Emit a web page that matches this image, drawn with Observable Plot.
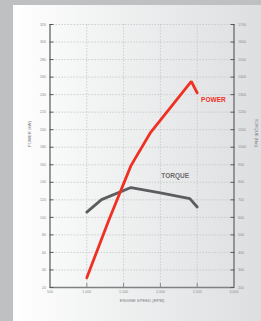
<!DOCTYPE html>
<html><head><meta charset="utf-8">
<script src="https://cdn.jsdelivr.net/npm/d3@7"></script>
<script src="https://cdn.jsdelivr.net/npm/@observablehq/plot@0.6"></script>
<style>
html,body{margin:0;padding:0;background:#bfc0c2;}
#wrap{position:relative;width:261px;height:321px;overflow:hidden;background:#bfc0c2;}
#card{position:absolute;left:13px;top:5px;width:260px;height:330px;background:linear-gradient(to right,#ffffff 0%,#f1f2f2 35%,#dcdddf 100%);}
#chart{position:absolute;left:0;top:0;}
</style></head>
<body><div id="wrap"><div id="card"></div><div id="chart"></div></div>
<script>
// Engine speed (rpm) and values
const powerRpm = [1000, 1300, 1600, 1860, 2420, 2500];
const powerKw  = [31, 97, 159, 196, 255, 242];
const torqueRpm = [1000, 1200, 1600, 2000, 2400, 2500];
const torqueNm  = [630, 701, 770, 739, 707, 659];
const xTicks = [500, 1000, 1500, 2000, 2500, 3000];
const powerTicks = d3.range(20, 321, 20);      // kW, left axis
const torqueTicks = d3.range(200, 1701, 100);  // Nm, right axis
const seriesLabels = [{name: "POWER", rpm: 2720, kw: 234, color: "#ef3124"},
                      {name: "TORQUE", rpm: 2200, kw: 147, color: "#6a6b6d"}];
const titles = {x: "ENGINE SPEED (RPM)", left: "POWER (kW)", right: "TORQUE (Nm)"};

// torque is drawn on the power scale: 200 Nm ↔ 20 kW, 100 Nm per 20 kW
const nm2kw = nm => 20 + (nm - 200) * 0.2;
const kw2nm = kw => 200 + (kw - 20) * 5;

const power = powerRpm.map((r, i) => ({rpm: r, v: powerKw[i]}));
const torque = torqueRpm.map((r, i) => ({rpm: r, v: nm2kw(torqueNm[i])}));
const fmt = d3.format(",");
const tickCol = "#8a8b8d";
const fs = "3.6px";

const chart = Plot.plot({
  width: 261, height: 321,
  marginLeft: 49.5, marginRight: 27.5, marginTop: 24, marginBottom: 34,
  style: {background: "transparent", fontFamily: "Liberation Sans, Arial, sans-serif"},
  x: {domain: [500, 3000]},
  y: {domain: [20, 320]},
  marks: [
    Plot.gridX(xTicks.slice(1, -1), {stroke: "#c4c5c7", strokeOpacity: 1, strokeDasharray: "1.5,1.5", strokeWidth: 0.8}),
    Plot.gridY(powerTicks, {stroke: "#c4c5c7", strokeOpacity: 1, strokeDasharray: "1.5,1.5", strokeWidth: 0.8}),
    // axis lines
    Plot.ruleX([500], {stroke: "#808184", strokeWidth: 1.6}),
    Plot.ruleX([3000], {stroke: "#808184", strokeWidth: 1.6}),
    Plot.ruleY([20], {stroke: "#808184", strokeWidth: 1.6}),
    // left axis
    Plot.axisY(powerTicks, {anchor: "left", tickSize: 0, tickPadding: 4, fontSize: fs, fill: tickCol, label: null}),
    Plot.axisY(powerTicks, {anchor: "left", tickSize: -4, tickFormat: () => "", stroke: "#58595b", strokeWidth: 1, label: null}),
    // right axis (Nm)
    Plot.axisY(torqueTicks.map(nm2kw), {anchor: "right", tickSize: 0, tickPadding: 4, tickFormat: d => String(Math.round(kw2nm(d))), fontSize: fs, fill: tickCol, label: null}),
    Plot.axisY(powerTicks, {anchor: "right", tickSize: -4, tickFormat: () => "", stroke: "#58595b", strokeWidth: 1, label: null}),
    // bottom axis
    Plot.axisX(xTicks, {anchor: "bottom", tickSize: 0, tickPadding: 3, tickFormat: fmt, fontSize: fs, fill: tickCol, label: null}),
    Plot.axisX(xTicks.slice(1, -1), {anchor: "bottom", tickSize: -4, tickFormat: () => "", stroke: "#8a8b8d", strokeWidth: 1, label: null}),
    // axis titles
    Plot.text([titles.x], {frameAnchor: "bottom", dy: 14, fontSize: "4.2px", fill: "#7a7b7d"}),
    Plot.text([titles.left], {frameAnchor: "left", rotate: -90, dx: -20, dy: -9, fontSize: "4.2px", fill: "#7a7b7d"}),
    Plot.text([titles.right], {frameAnchor: "right", rotate: 90, dx: 22, dy: -9, fontSize: "4.2px", fill: "#7a7b7d"}),
    // series
    Plot.line(torque, {x: "rpm", y: "v", stroke: "#5d5d5f", strokeWidth: 2.8, strokeLinejoin: "miter"}),
    Plot.line(power, {x: "rpm", y: "v", stroke: "#ef3124", strokeWidth: 2.8, strokeLinejoin: "miter"}),
    Plot.text(seriesLabels, {x: "rpm", y: "kw", text: "name", fill: "color", fontSize: "6.5px", fontWeight: "bold"})
  ]
});
document.getElementById("chart").appendChild(chart);
</script></body></html>
